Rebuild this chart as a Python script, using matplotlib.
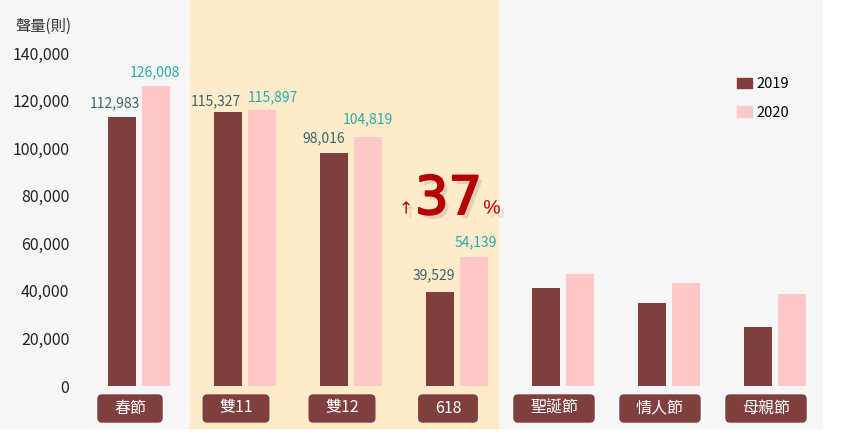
import matplotlib
matplotlib.use('Agg')
import matplotlib.pyplot as plt
import matplotlib.patheffects as pe
import numpy as np
from matplotlib.patches import Rectangle, FancyBboxPatch
from matplotlib.transforms import IdentityTransform

plt.rcParams['font.family'] = ['Noto Sans CJK TC', 'DejaVu Sans']

# data
categories = ['春節', '雙11', '雙12', '618', '聖誕節', '情人節', '母親節']
vol_2019 = [112983, 115327, 98016, 39529, 41000, 35000, 24700]
vol_2020 = [126008, 115897, 104819, 54139, 47000, 43500, 38500]
n_labeled = 4  # only the first four groups carry value labels
yticks = [0, 20000, 40000, 60000, 80000, 100000, 120000, 140000]

# label nudges in pixels (dx, dy) for the hand-placed value labels
nudge_2019 = [(-7, 10), (-12, 6), (-10, 11), (-6, 13)]
nudge_2020 = [(-1, 10), (11, 9), (0, 13), (2, 11)]

C2019 = '#7f3f3f'
C2020 = '#ffc8c8'
RED = '#b50000'

W, H = 865, 436
fig = plt.figure(figsize=(W / 100, H / 100), dpi=100)
fig.patch.set_facecolor('white')

# background panels
fig.add_artist(Rectangle((0, 8 / H), 822 / W, 1 - 8 / H, transform=fig.transFigure,
                         color='#f6f6f6', zorder=-2))
fig.add_artist(Rectangle((190 / W, 8 / H), 308 / W, 1 - 8 / H, transform=fig.transFigure,
                         color='#feebc9', zorder=-1))

ax = fig.add_axes([86 / W, 50 / H, 742 / W, 333 / H])
ax.set_facecolor('none')
x = np.arange(len(categories))
off, bw = 0.16, 0.27
ax.bar(x - off, vol_2019, bw, color=C2019, label='2019')
ax.bar(x + off, vol_2020, bw, color=C2020, label='2020')

for i in range(n_labeled):
    ax.annotate(f'{vol_2019[i]:,}', (x[i] - off, vol_2019[i]), xytext=nudge_2019[i],
                textcoords='offset pixels', ha='center', va='baseline',
                fontsize=10, color='#3b6470')
    ax.annotate(f'{vol_2020[i]:,}', (x[i] + off, vol_2020[i]), xytext=nudge_2020[i],
                textcoords='offset pixels', ha='center', va='baseline',
                fontsize=10, color='#27a9ad')

ax.set_xlim(-0.5, len(categories) - 0.5)
ax.set_ylim(0, 140000)
ax.set_yticks(yticks)
ax.set_yticklabels([f'{t:,}' for t in yticks])
ax.set_xticks([])
ax.tick_params(axis='y', length=0, pad=12, labelsize=11.5, labelcolor='#222222')
for s in ax.spines.values():
    s.set_visible(False)

fig.text(15 / W, 1 - 26 / H, '聲量(則)', ha='left', va='center', fontsize=11, color='#333333')

# growth callout
shadow = pe.withSimplePatchShadow(offset=(3, -3), shadow_rgbFace='#8a8a8a', alpha=0.25)
thick = [shadow, pe.Stroke(linewidth=1.4, foreground=RED), pe.Normal()]
ax.text(2.92, 72300, '37', ha='center', va='baseline', fontsize=38,
        color=RED, family=['Liberation Sans Narrow', 'DejaVu Sans'], path_effects=thick)
ax.text(2.52, 72500, '↑', ha='center', va='baseline', fontsize=12, color=RED,
        family=['DejaVu Sans'], path_effects=[shadow])
ax.text(3.33, 72500, '%', ha='center', va='baseline', fontsize=14, color=RED,
        family=['Liberation Sans', 'DejaVu Sans'], path_effects=[shadow])

# legend
handles = [Rectangle((0, 0), 1, 1, color=C2019), Rectangle((0, 0), 1, 1, color=C2020)]
fig.legend(handles, ['2019', '2020'], loc='upper left', bbox_to_anchor=(724 / W, 1 - 64 / H),
           frameon=False, handlelength=1.0, handleheight=0.75, handletextpad=0.3,
           labelspacing=1.0, fontsize=10.5)

# category label boxes
fig.canvas.draw()
renderer = fig.canvas.get_renderer()
for i, lab in enumerate(categories):
    cx = ax.transData.transform((x[i], 0))[0] - 9
    t = fig.text(cx / W, 28 / H, lab, ha='center', va='center', color='white',
                 fontsize=11.5, zorder=5)
    tw = t.get_window_extent(renderer).width
    boxw = tw + 32
    fig.add_artist(FancyBboxPatch((cx - boxw / 2, 14), boxw, 27,
                                  boxstyle='round,pad=0,rounding_size=4',
                                  transform=IdentityTransform(), color=C2019, zorder=4))

fig.savefig('out.png', dpi=100)
